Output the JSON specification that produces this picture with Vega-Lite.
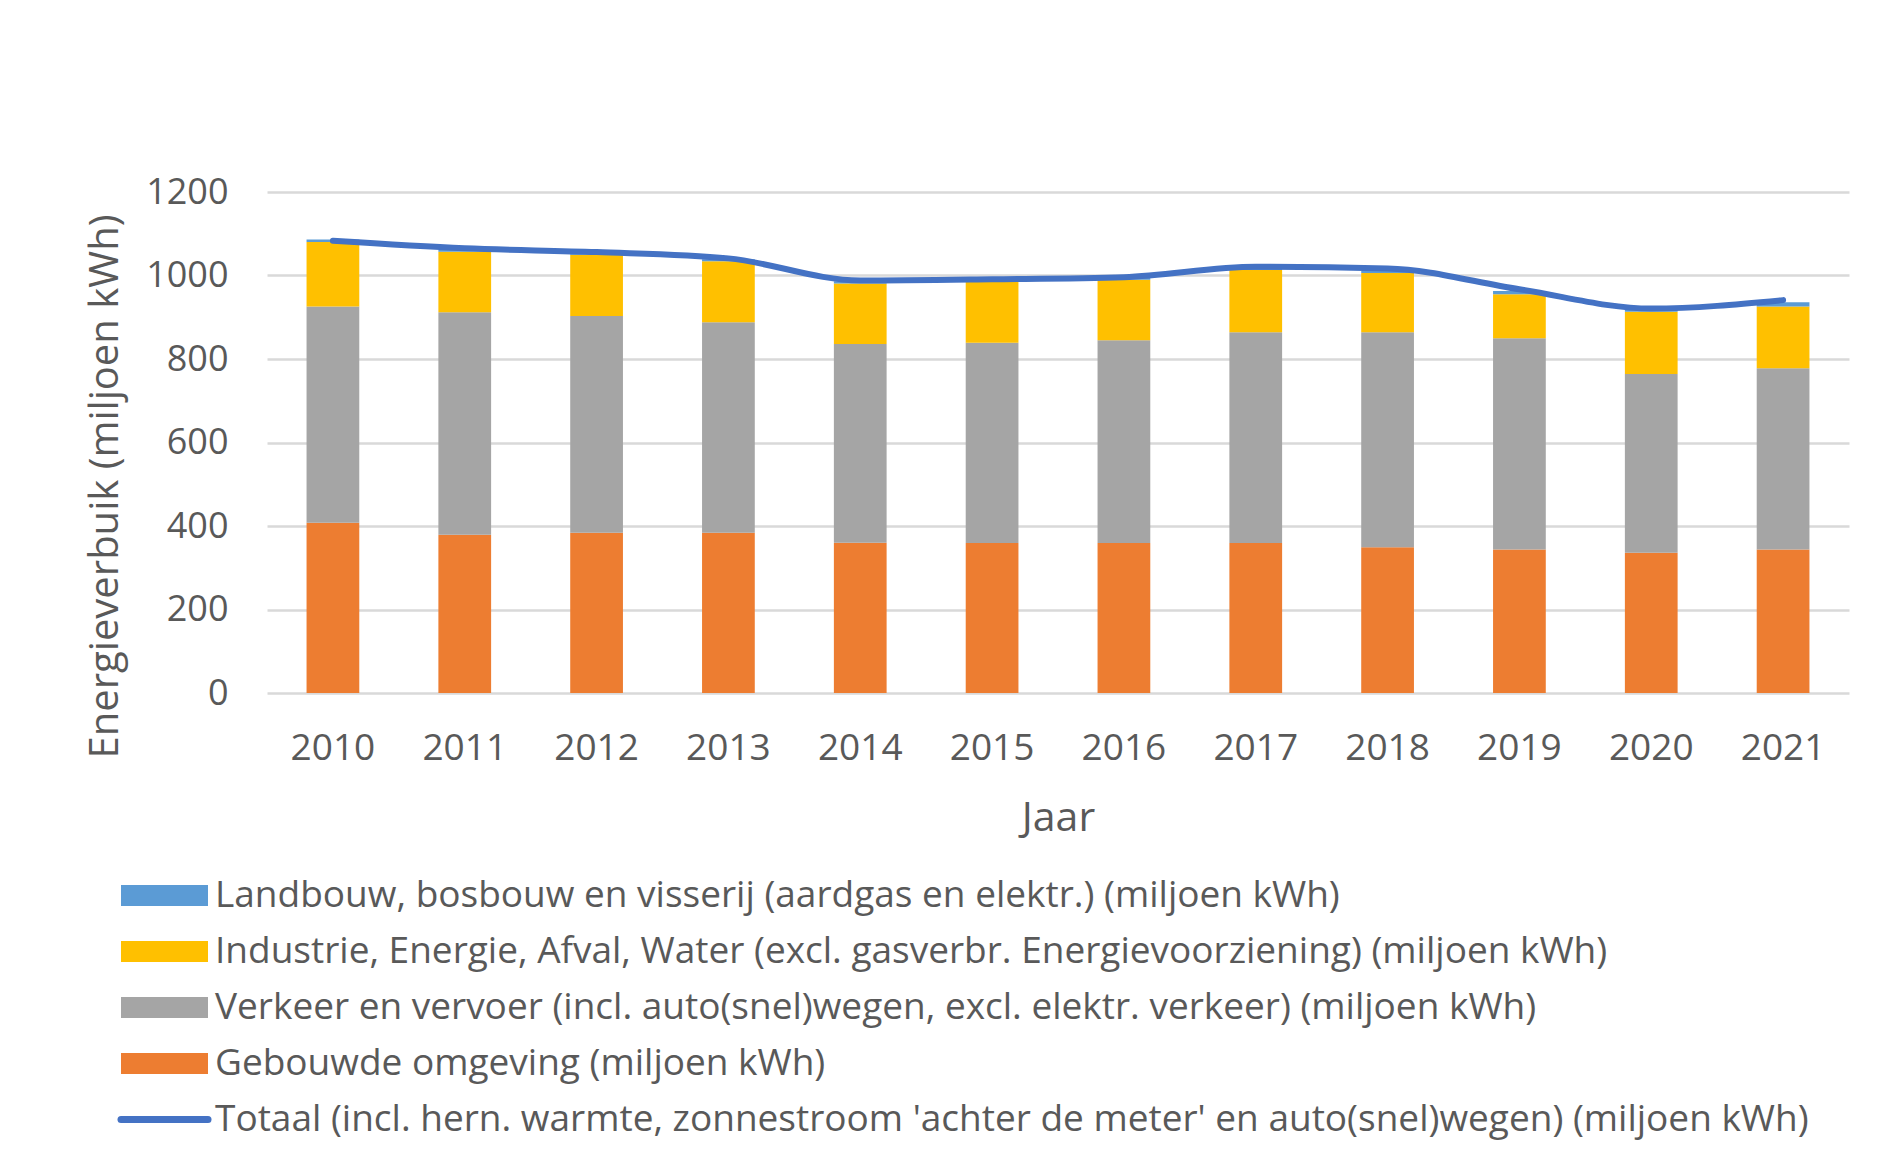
{
  "$schema": "https://vega.github.io/schema/vega-lite/v6.json",
  "width": 1582,
  "height": 501,
  "autosize": {"type": "none"},
  "padding": {"left": 267, "top": 192, "right": 39, "bottom": 478},
  "background": "white",
  "config": {
    "view": {"stroke": null},
    "font": "Open Sans",
    "axis": {"labelColor": "#595959", "titleColor": "#595959", "titleFontWeight": "normal", "labelFont": "Open Sans", "titleFont": "Open Sans"},
    "legend": {"labelColor": "#595959", "labelFont": "Open Sans"}
  },
  "datasets": {
    "sectoren": [
      {"jaar": "2010", "reeks": "Gebouwde omgeving (miljoen kWh)", "waarde": 408, "o": 1},
      {"jaar": "2010", "reeks": "Verkeer en vervoer (incl. auto(snel)wegen, excl. elektr. verkeer) (miljoen kWh)", "waarde": 518, "o": 2},
      {"jaar": "2010", "reeks": "Industrie, Energie, Afval, Water (excl. gasverbr. Energievoorziening) (miljoen kWh)", "waarde": 154, "o": 3},
      {"jaar": "2010", "reeks": "Landbouw, bosbouw en visserij (aardgas en elektr.) (miljoen kWh)", "waarde": 6, "o": 4},
      {"jaar": "2011", "reeks": "Gebouwde omgeving (miljoen kWh)", "waarde": 379, "o": 1},
      {"jaar": "2011", "reeks": "Verkeer en vervoer (incl. auto(snel)wegen, excl. elektr. verkeer) (miljoen kWh)", "waarde": 533, "o": 2},
      {"jaar": "2011", "reeks": "Industrie, Energie, Afval, Water (excl. gasverbr. Energievoorziening) (miljoen kWh)", "waarde": 145, "o": 3},
      {"jaar": "2011", "reeks": "Landbouw, bosbouw en visserij (aardgas en elektr.) (miljoen kWh)", "waarde": 5, "o": 4},
      {"jaar": "2012", "reeks": "Gebouwde omgeving (miljoen kWh)", "waarde": 384, "o": 1},
      {"jaar": "2012", "reeks": "Verkeer en vervoer (incl. auto(snel)wegen, excl. elektr. verkeer) (miljoen kWh)", "waarde": 519, "o": 2},
      {"jaar": "2012", "reeks": "Industrie, Energie, Afval, Water (excl. gasverbr. Energievoorziening) (miljoen kWh)", "waarde": 147, "o": 3},
      {"jaar": "2012", "reeks": "Landbouw, bosbouw en visserij (aardgas en elektr.) (miljoen kWh)", "waarde": 5, "o": 4},
      {"jaar": "2013", "reeks": "Gebouwde omgeving (miljoen kWh)", "waarde": 384, "o": 1},
      {"jaar": "2013", "reeks": "Verkeer en vervoer (incl. auto(snel)wegen, excl. elektr. verkeer) (miljoen kWh)", "waarde": 504, "o": 2},
      {"jaar": "2013", "reeks": "Industrie, Energie, Afval, Water (excl. gasverbr. Energievoorziening) (miljoen kWh)", "waarde": 146, "o": 3},
      {"jaar": "2013", "reeks": "Landbouw, bosbouw en visserij (aardgas en elektr.) (miljoen kWh)", "waarde": 5, "o": 4},
      {"jaar": "2014", "reeks": "Gebouwde omgeving (miljoen kWh)", "waarde": 360, "o": 1},
      {"jaar": "2014", "reeks": "Verkeer en vervoer (incl. auto(snel)wegen, excl. elektr. verkeer) (miljoen kWh)", "waarde": 476, "o": 2},
      {"jaar": "2014", "reeks": "Industrie, Energie, Afval, Water (excl. gasverbr. Energievoorziening) (miljoen kWh)", "waarde": 145, "o": 3},
      {"jaar": "2014", "reeks": "Landbouw, bosbouw en visserij (aardgas en elektr.) (miljoen kWh)", "waarde": 5, "o": 4},
      {"jaar": "2015", "reeks": "Gebouwde omgeving (miljoen kWh)", "waarde": 359, "o": 1},
      {"jaar": "2015", "reeks": "Verkeer en vervoer (incl. auto(snel)wegen, excl. elektr. verkeer) (miljoen kWh)", "waarde": 480, "o": 2},
      {"jaar": "2015", "reeks": "Industrie, Energie, Afval, Water (excl. gasverbr. Energievoorziening) (miljoen kWh)", "waarde": 146, "o": 3},
      {"jaar": "2015", "reeks": "Landbouw, bosbouw en visserij (aardgas en elektr.) (miljoen kWh)", "waarde": 5, "o": 4},
      {"jaar": "2016", "reeks": "Gebouwde omgeving (miljoen kWh)", "waarde": 359, "o": 1},
      {"jaar": "2016", "reeks": "Verkeer en vervoer (incl. auto(snel)wegen, excl. elektr. verkeer) (miljoen kWh)", "waarde": 486, "o": 2},
      {"jaar": "2016", "reeks": "Industrie, Energie, Afval, Water (excl. gasverbr. Energievoorziening) (miljoen kWh)", "waarde": 145, "o": 3},
      {"jaar": "2016", "reeks": "Landbouw, bosbouw en visserij (aardgas en elektr.) (miljoen kWh)", "waarde": 5, "o": 4},
      {"jaar": "2017", "reeks": "Gebouwde omgeving (miljoen kWh)", "waarde": 359, "o": 1},
      {"jaar": "2017", "reeks": "Verkeer en vervoer (incl. auto(snel)wegen, excl. elektr. verkeer) (miljoen kWh)", "waarde": 505, "o": 2},
      {"jaar": "2017", "reeks": "Industrie, Energie, Afval, Water (excl. gasverbr. Energievoorziening) (miljoen kWh)", "waarde": 149, "o": 3},
      {"jaar": "2017", "reeks": "Landbouw, bosbouw en visserij (aardgas en elektr.) (miljoen kWh)", "waarde": 5, "o": 4},
      {"jaar": "2018", "reeks": "Gebouwde omgeving (miljoen kWh)", "waarde": 349, "o": 1},
      {"jaar": "2018", "reeks": "Verkeer en vervoer (incl. auto(snel)wegen, excl. elektr. verkeer) (miljoen kWh)", "waarde": 515, "o": 2},
      {"jaar": "2018", "reeks": "Industrie, Energie, Afval, Water (excl. gasverbr. Energievoorziening) (miljoen kWh)", "waarde": 142, "o": 3},
      {"jaar": "2018", "reeks": "Landbouw, bosbouw en visserij (aardgas en elektr.) (miljoen kWh)", "waarde": 5, "o": 4},
      {"jaar": "2019", "reeks": "Gebouwde omgeving (miljoen kWh)", "waarde": 344, "o": 1},
      {"jaar": "2019", "reeks": "Verkeer en vervoer (incl. auto(snel)wegen, excl. elektr. verkeer) (miljoen kWh)", "waarde": 506, "o": 2},
      {"jaar": "2019", "reeks": "Industrie, Energie, Afval, Water (excl. gasverbr. Energievoorziening) (miljoen kWh)", "waarde": 105, "o": 3},
      {"jaar": "2019", "reeks": "Landbouw, bosbouw en visserij (aardgas en elektr.) (miljoen kWh)", "waarde": 8, "o": 4},
      {"jaar": "2020", "reeks": "Gebouwde omgeving (miljoen kWh)", "waarde": 336, "o": 1},
      {"jaar": "2020", "reeks": "Verkeer en vervoer (incl. auto(snel)wegen, excl. elektr. verkeer) (miljoen kWh)", "waarde": 428, "o": 2},
      {"jaar": "2020", "reeks": "Industrie, Energie, Afval, Water (excl. gasverbr. Energievoorziening) (miljoen kWh)", "waarde": 149, "o": 3},
      {"jaar": "2020", "reeks": "Landbouw, bosbouw en visserij (aardgas en elektr.) (miljoen kWh)", "waarde": 5, "o": 4},
      {"jaar": "2021", "reeks": "Gebouwde omgeving (miljoen kWh)", "waarde": 344, "o": 1},
      {"jaar": "2021", "reeks": "Verkeer en vervoer (incl. auto(snel)wegen, excl. elektr. verkeer) (miljoen kWh)", "waarde": 434, "o": 2},
      {"jaar": "2021", "reeks": "Industrie, Energie, Afval, Water (excl. gasverbr. Energievoorziening) (miljoen kWh)", "waarde": 148, "o": 3},
      {"jaar": "2021", "reeks": "Landbouw, bosbouw en visserij (aardgas en elektr.) (miljoen kWh)", "waarde": 10, "o": 4}
    ],
    "totaal": [
      {"jaar": "2010", "reeks": "Totaal (incl. hern. warmte, zonnestroom 'achter de meter' en auto(snel)wegen) (miljoen kWh)", "waarde": 1083},
      {"jaar": "2011", "reeks": "Totaal (incl. hern. warmte, zonnestroom 'achter de meter' en auto(snel)wegen) (miljoen kWh)", "waarde": 1065},
      {"jaar": "2012", "reeks": "Totaal (incl. hern. warmte, zonnestroom 'achter de meter' en auto(snel)wegen) (miljoen kWh)", "waarde": 1056},
      {"jaar": "2013", "reeks": "Totaal (incl. hern. warmte, zonnestroom 'achter de meter' en auto(snel)wegen) (miljoen kWh)", "waarde": 1041},
      {"jaar": "2014", "reeks": "Totaal (incl. hern. warmte, zonnestroom 'achter de meter' en auto(snel)wegen) (miljoen kWh)", "waarde": 988},
      {"jaar": "2015", "reeks": "Totaal (incl. hern. warmte, zonnestroom 'achter de meter' en auto(snel)wegen) (miljoen kWh)", "waarde": 991},
      {"jaar": "2016", "reeks": "Totaal (incl. hern. warmte, zonnestroom 'achter de meter' en auto(snel)wegen) (miljoen kWh)", "waarde": 996},
      {"jaar": "2017", "reeks": "Totaal (incl. hern. warmte, zonnestroom 'achter de meter' en auto(snel)wegen) (miljoen kWh)", "waarde": 1021},
      {"jaar": "2018", "reeks": "Totaal (incl. hern. warmte, zonnestroom 'achter de meter' en auto(snel)wegen) (miljoen kWh)", "waarde": 1017},
      {"jaar": "2019", "reeks": "Totaal (incl. hern. warmte, zonnestroom 'achter de meter' en auto(snel)wegen) (miljoen kWh)", "waarde": 967},
      {"jaar": "2020", "reeks": "Totaal (incl. hern. warmte, zonnestroom 'achter de meter' en auto(snel)wegen) (miljoen kWh)", "waarde": 921},
      {"jaar": "2021", "reeks": "Totaal (incl. hern. warmte, zonnestroom 'achter de meter' en auto(snel)wegen) (miljoen kWh)", "waarde": 941}
    ]
  },
  "encoding": {
    "x": {
      "field": "jaar", "type": "ordinal",
      "scale": {"paddingInner": 0.6, "paddingOuter": 0.3},
      "axis": {"title": "Jaar", "labelAngle": 0, "labelFontSize": 37, "labelPadding": 37, "ticks": false, "tickSize": 0, "domain": false, "titleFontSize": 41, "titlePadding": 32}
    }
  },
  "layer": [
    {
      "data": {"name": "sectoren"},
      "mark": {"type": "bar"},
      "encoding": {
        "y": {
          "field": "waarde", "type": "quantitative", "stack": "zero",
          "scale": {"domain": [0, 1200]},
          "axis": {"title": "Energieverbuik (miljoen kWh)", "format": "d", "values": [0, 200, 400, 600, 800, 1000, 1200], "labelFontSize": 36, "labelPadding": 39, "ticks": false, "tickSize": 0, "domain": false, "gridColor": "#D9D9D9", "gridWidth": 2.5, "titleFontSize": 40, "titleX": -162, "titleY": 294, "titleBaseline": "middle", "titleAngle": -90}
        },
        "order": {"field": "o", "type": "quantitative"},
        "color": {
          "field": "reeks", "type": "nominal",
          "scale": {
            "domain": [
              "Landbouw, bosbouw en visserij (aardgas en elektr.) (miljoen kWh)",
              "Industrie, Energie, Afval, Water (excl. gasverbr. Energievoorziening) (miljoen kWh)",
              "Verkeer en vervoer (incl. auto(snel)wegen, excl. elektr. verkeer) (miljoen kWh)",
              "Gebouwde omgeving (miljoen kWh)",
              "Totaal (incl. hern. warmte, zonnestroom 'achter de meter' en auto(snel)wegen) (miljoen kWh)"
            ],
            "range": ["#5B9BD5", "#FFC000", "#A5A5A5", "#ED7D31", "#4472C4"]
          },
          "legend": {
            "title": null,
            "orient": "none",
            "legendX": -148,
            "legendY": 685,
            "direction": "vertical",
            "padding": 0,
            "labelFontSize": 37,
            "labelLimit": 2000,
            "labelOffset": 32,
            "symbolOffset": 27,
            "rowPadding": 18,
            "symbolSize": 7569,
            "encode": {
              "symbols": {
                "update": {
                  "shape": {"signal": "datum.index === 4 ? 'M-1,0H1' : 'M-1,-0.24H1V0.24H-1Z'"},
                  "fill": {"signal": "datum.index === 4 ? 'transparent' : scale('color', datum.value)"},
                  "stroke": {"signal": "datum.index === 4 ? '#4472C4' : 'transparent'"},
                  "strokeWidth": {"signal": "datum.index === 4 ? 7 : 0"},
                  "strokeCap": {"value": "round"},
                  "opacity": {"value": 1},
                  "fillOpacity": {"value": 1}
                }
              }
            }
          }
        }
      }
    },
    {
      "data": {"name": "totaal"},
      "mark": {"type": "line", "strokeWidth": 6, "strokeCap": "round", "strokeJoin": "round", "interpolate": "monotone"},
      "encoding": {
        "y": {"field": "waarde", "type": "quantitative"},
        "color": {"field": "reeks", "type": "nominal"}
      }
    }
  ]
}
